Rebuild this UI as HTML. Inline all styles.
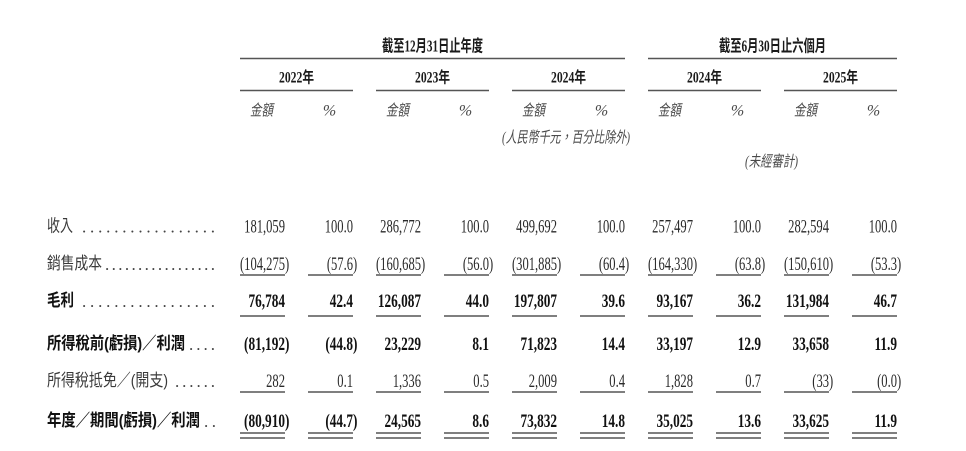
<!DOCTYPE html>
<html>
<head>
<meta charset="utf-8">
<style>
html,body{margin:0;padding:0;background:#fff;}
svg{display:block;}
.r{font-family:"Liberation Serif",serif;font-size:18.5px;fill:#2a2a2a;}
.b{font-family:"Liberation Serif",serif;font-size:19px;font-weight:bold;fill:#111;}
.lr{font-family:"Liberation Sans","Noto Sans CJK TC",sans-serif;font-size:17px;fill:#3a3a3a;}
.lb{font-family:"Liberation Sans","Noto Sans CJK TC",sans-serif;font-size:17px;font-weight:bold;fill:#111;}
.dot{font-family:"Liberation Serif",serif;font-size:17px;fill:#444;}
.h{font-family:"Liberation Serif","Noto Sans CJK TC",sans-serif;font-size:16.5px;font-weight:bold;fill:#1a1a1a;}
.y{font-family:"Liberation Serif","Noto Sans CJK TC",sans-serif;font-size:15.5px;font-weight:bold;fill:#1a1a1a;}
.it{font-family:"Liberation Serif","Noto Sans CJK TC",sans-serif;font-size:15.5px;font-style:italic;fill:#4a4a4a;}
.pc{font-family:"Liberation Serif",serif;font-size:16px;font-style:italic;fill:#4a4a4a;}
line{stroke:#555;stroke-width:1.4;}
</style>
</head>
<body>
<svg width="966" height="451" viewBox="0 0 966 451" xmlns="http://www.w3.org/2000/svg">
<!-- Headers -->
<text class="h" x="432.5" y="51.5" text-anchor="middle" textLength="101" lengthAdjust="spacingAndGlyphs">截至12月31日止年度</text>
<text class="h" x="772.5" y="51.5" text-anchor="middle" textLength="107" lengthAdjust="spacingAndGlyphs">截至6月30日止六個月</text>
<line x1="240" y1="58.5" x2="625" y2="58.5"/>
<line x1="648" y1="58.5" x2="897" y2="58.5"/>

<text class="y" x="296.5" y="82.5" text-anchor="middle" textLength="35" lengthAdjust="spacingAndGlyphs">2022年</text>
<text class="y" x="432.5" y="82.5" text-anchor="middle" textLength="35" lengthAdjust="spacingAndGlyphs">2023年</text>
<text class="y" x="568.5" y="82.5" text-anchor="middle" textLength="35" lengthAdjust="spacingAndGlyphs">2024年</text>
<text class="y" x="704.5" y="82.5" text-anchor="middle" textLength="35" lengthAdjust="spacingAndGlyphs">2024年</text>
<text class="y" x="840.5" y="82.5" text-anchor="middle" textLength="35" lengthAdjust="spacingAndGlyphs">2025年</text>
<line x1="240" y1="90.5" x2="353" y2="90.5"/>
<line x1="376" y1="90.5" x2="489" y2="90.5"/>
<line x1="512" y1="90.5" x2="625" y2="90.5"/>
<line x1="648" y1="90.5" x2="761" y2="90.5"/>
<line x1="784" y1="90.5" x2="897" y2="90.5"/>

<text class="it" x="261.5" y="115.5" text-anchor="middle" textLength="23" lengthAdjust="spacingAndGlyphs">金額</text>
<text class="it" x="397.5" y="115.5" text-anchor="middle" textLength="23" lengthAdjust="spacingAndGlyphs">金額</text>
<text class="it" x="533.5" y="115.5" text-anchor="middle" textLength="23" lengthAdjust="spacingAndGlyphs">金額</text>
<text class="it" x="669.5" y="115.5" text-anchor="middle" textLength="23" lengthAdjust="spacingAndGlyphs">金額</text>
<text class="it" x="805.5" y="115.5" text-anchor="middle" textLength="23" lengthAdjust="spacingAndGlyphs">金額</text>
<text class="pc" x="329.5" y="115.5" text-anchor="middle">%</text>
<text class="pc" x="465.5" y="115.5" text-anchor="middle">%</text>
<text class="pc" x="601.5" y="115.5" text-anchor="middle">%</text>
<text class="pc" x="737.5" y="115.5" text-anchor="middle">%</text>
<text class="pc" x="873.5" y="115.5" text-anchor="middle">%</text>

<text class="it" x="502" y="142.5" textLength="128" lengthAdjust="spacingAndGlyphs">(人民幣千元，百分比除外)</text>
<text class="it" x="771.5" y="166.5" text-anchor="middle" textLength="53" lengthAdjust="spacingAndGlyphs">(未經審計)</text>

<!-- Labels -->
<text class="lr" x="47" y="231.5" textLength="26" lengthAdjust="spacingAndGlyphs">收入</text>
<text class="dot" x="82" y="232.5" textLength="133" lengthAdjust="spacing">.................</text>
<text class="lr" x="47" y="269" textLength="55" lengthAdjust="spacingAndGlyphs">銷售成本</text>
<text class="dot" x="105" y="270" textLength="110" lengthAdjust="spacing">.................</text>
<text class="lb" x="47" y="306" textLength="27" lengthAdjust="spacingAndGlyphs">毛利</text>
<text class="dot" x="82" y="307" textLength="133" lengthAdjust="spacing">.................</text>
<text class="lb" x="47" y="349" textLength="138" lengthAdjust="spacingAndGlyphs">所得稅前(虧損)／利潤</text>
<text class="dot" x="189" y="350" textLength="26" lengthAdjust="spacing">....</text>
<text class="lr" x="47" y="386" textLength="121" lengthAdjust="spacingAndGlyphs">所得稅抵免／(開支)</text>
<text class="dot" x="175" y="387" textLength="40" lengthAdjust="spacing">......</text>
<text class="lb" x="47" y="426" textLength="153" lengthAdjust="spacingAndGlyphs">年度／期間(虧損)／利潤</text>
<text class="dot" x="204" y="427" textLength="12" lengthAdjust="spacing">..</text>

<!-- Row 1 -->
<g class="r">
<text transform="translate(285,232.5) scale(.68,1)" text-anchor="end">181,059</text>
<text transform="translate(353,232.5) scale(.68,1)" text-anchor="end">100.0</text>
<text transform="translate(421,232.5) scale(.68,1)" text-anchor="end">286,772</text>
<text transform="translate(489,232.5) scale(.68,1)" text-anchor="end">100.0</text>
<text transform="translate(557,232.5) scale(.68,1)" text-anchor="end">499,692</text>
<text transform="translate(625,232.5) scale(.68,1)" text-anchor="end">100.0</text>
<text transform="translate(693,232.5) scale(.68,1)" text-anchor="end">257,497</text>
<text transform="translate(761,232.5) scale(.68,1)" text-anchor="end">100.0</text>
<text transform="translate(829,232.5) scale(.68,1)" text-anchor="end">282,594</text>
<text transform="translate(897,232.5) scale(.68,1)" text-anchor="end">100.0</text>
</g>
<!-- Row 2 -->
<g class="r">
<text transform="translate(289.2,270) scale(.68,1)" text-anchor="end">(104,275)</text>
<text transform="translate(357.2,270) scale(.68,1)" text-anchor="end">(57.6)</text>
<text transform="translate(425.2,270) scale(.68,1)" text-anchor="end">(160,685)</text>
<text transform="translate(493.2,270) scale(.68,1)" text-anchor="end">(56.0)</text>
<text transform="translate(561.2,270) scale(.68,1)" text-anchor="end">(301,885)</text>
<text transform="translate(629.2,270) scale(.68,1)" text-anchor="end">(60.4)</text>
<text transform="translate(697.2,270) scale(.68,1)" text-anchor="end">(164,330)</text>
<text transform="translate(765.2,270) scale(.68,1)" text-anchor="end">(63.8)</text>
<text transform="translate(833.2,270) scale(.68,1)" text-anchor="end">(150,610)</text>
<text transform="translate(901.2,270) scale(.68,1)" text-anchor="end">(53.3)</text>
</g>
<!-- Row 3 -->
<g class="b">
<text transform="translate(285,307) scale(.7,1)" text-anchor="end">76,784</text>
<text transform="translate(353,307) scale(.7,1)" text-anchor="end">42.4</text>
<text transform="translate(421,307) scale(.7,1)" text-anchor="end">126,087</text>
<text transform="translate(489,307) scale(.7,1)" text-anchor="end">44.0</text>
<text transform="translate(557,307) scale(.7,1)" text-anchor="end">197,807</text>
<text transform="translate(625,307) scale(.7,1)" text-anchor="end">39.6</text>
<text transform="translate(693,307) scale(.7,1)" text-anchor="end">93,167</text>
<text transform="translate(761,307) scale(.7,1)" text-anchor="end">36.2</text>
<text transform="translate(829,307) scale(.7,1)" text-anchor="end">131,984</text>
<text transform="translate(897,307) scale(.7,1)" text-anchor="end">46.7</text>
</g>
<!-- Row 4 -->
<g class="b">
<text transform="translate(289.4,350) scale(.7,1)" text-anchor="end">(81,192)</text>
<text transform="translate(357.4,350) scale(.7,1)" text-anchor="end">(44.8)</text>
<text transform="translate(421,350) scale(.7,1)" text-anchor="end">23,229</text>
<text transform="translate(489,350) scale(.7,1)" text-anchor="end">8.1</text>
<text transform="translate(557,350) scale(.7,1)" text-anchor="end">71,823</text>
<text transform="translate(625,350) scale(.7,1)" text-anchor="end">14.4</text>
<text transform="translate(693,350) scale(.7,1)" text-anchor="end">33,197</text>
<text transform="translate(761,350) scale(.7,1)" text-anchor="end">12.9</text>
<text transform="translate(829,350) scale(.7,1)" text-anchor="end">33,658</text>
<text transform="translate(897,350) scale(.7,1)" text-anchor="end">11.9</text>
</g>
<!-- Row 5 -->
<g class="r">
<text transform="translate(285,387) scale(.68,1)" text-anchor="end">282</text>
<text transform="translate(353,387) scale(.68,1)" text-anchor="end">0.1</text>
<text transform="translate(421,387) scale(.68,1)" text-anchor="end">1,336</text>
<text transform="translate(489,387) scale(.68,1)" text-anchor="end">0.5</text>
<text transform="translate(557,387) scale(.68,1)" text-anchor="end">2,009</text>
<text transform="translate(625,387) scale(.68,1)" text-anchor="end">0.4</text>
<text transform="translate(693,387) scale(.68,1)" text-anchor="end">1,828</text>
<text transform="translate(761,387) scale(.68,1)" text-anchor="end">0.7</text>
<text transform="translate(833.2,387) scale(.68,1)" text-anchor="end">(33)</text>
<text transform="translate(901.2,387) scale(.68,1)" text-anchor="end">(0.0)</text>
</g>
<!-- Row 6 -->
<g class="b">
<text transform="translate(289.4,427) scale(.7,1)" text-anchor="end">(80,910)</text>
<text transform="translate(357.4,427) scale(.7,1)" text-anchor="end">(44.7)</text>
<text transform="translate(421,427) scale(.7,1)" text-anchor="end">24,565</text>
<text transform="translate(489,427) scale(.7,1)" text-anchor="end">8.6</text>
<text transform="translate(557,427) scale(.7,1)" text-anchor="end">73,832</text>
<text transform="translate(625,427) scale(.7,1)" text-anchor="end">14.8</text>
<text transform="translate(693,427) scale(.7,1)" text-anchor="end">35,025</text>
<text transform="translate(761,427) scale(.7,1)" text-anchor="end">13.6</text>
<text transform="translate(829,427) scale(.7,1)" text-anchor="end">33,625</text>
<text transform="translate(897,427) scale(.7,1)" text-anchor="end">11.9</text>
</g>

<!-- Underlines -->
<g>
<line x1="240" y1="275" x2="285" y2="275"/><line x1="308" y1="275" x2="353" y2="275"/><line x1="376" y1="275" x2="421" y2="275"/><line x1="444" y1="275" x2="489" y2="275"/><line x1="512" y1="275" x2="557" y2="275"/><line x1="580" y1="275" x2="625" y2="275"/><line x1="648" y1="275" x2="693" y2="275"/><line x1="716" y1="275" x2="761" y2="275"/><line x1="784" y1="275" x2="829" y2="275"/><line x1="852" y1="275" x2="897" y2="275"/>

<line x1="240" y1="316" x2="285" y2="316"/><line x1="308" y1="316" x2="353" y2="316"/><line x1="376" y1="316" x2="421" y2="316"/><line x1="444" y1="316" x2="489" y2="316"/><line x1="512" y1="316" x2="557" y2="316"/><line x1="580" y1="316" x2="625" y2="316"/><line x1="648" y1="316" x2="693" y2="316"/><line x1="716" y1="316" x2="761" y2="316"/><line x1="784" y1="316" x2="829" y2="316"/><line x1="852" y1="316" x2="897" y2="316"/>

<line x1="240" y1="392" x2="285" y2="392"/><line x1="308" y1="392" x2="353" y2="392"/><line x1="376" y1="392" x2="421" y2="392"/><line x1="444" y1="392" x2="489" y2="392"/><line x1="512" y1="392" x2="557" y2="392"/><line x1="580" y1="392" x2="625" y2="392"/><line x1="648" y1="392" x2="693" y2="392"/><line x1="716" y1="392" x2="761" y2="392"/><line x1="784" y1="392" x2="829" y2="392"/><line x1="852" y1="392" x2="897" y2="392"/>

<line x1="240" y1="433" x2="285" y2="433"/><line x1="308" y1="433" x2="353" y2="433"/><line x1="376" y1="433" x2="421" y2="433"/><line x1="444" y1="433" x2="489" y2="433"/><line x1="512" y1="433" x2="557" y2="433"/><line x1="580" y1="433" x2="625" y2="433"/><line x1="648" y1="433" x2="693" y2="433"/><line x1="716" y1="433" x2="761" y2="433"/><line x1="784" y1="433" x2="829" y2="433"/><line x1="852" y1="433" x2="897" y2="433"/>

<line x1="240" y1="438" x2="285" y2="438"/><line x1="308" y1="438" x2="353" y2="438"/><line x1="376" y1="438" x2="421" y2="438"/><line x1="444" y1="438" x2="489" y2="438"/><line x1="512" y1="438" x2="557" y2="438"/><line x1="580" y1="438" x2="625" y2="438"/><line x1="648" y1="438" x2="693" y2="438"/><line x1="716" y1="438" x2="761" y2="438"/><line x1="784" y1="438" x2="829" y2="438"/><line x1="852" y1="438" x2="897" y2="438"/>
</g>
</svg>
</body>
</html>
